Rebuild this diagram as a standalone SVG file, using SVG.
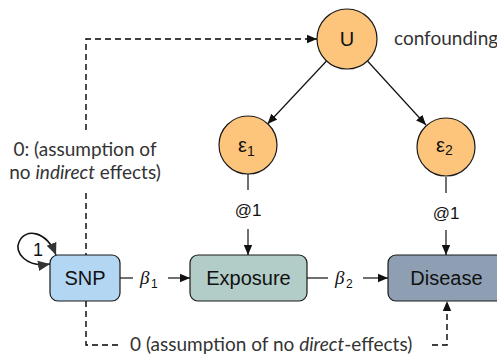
<svg xmlns="http://www.w3.org/2000/svg" width="497" height="356" viewBox="0 0 497 356">
  <style>
    .node { stroke: #1a1a1a; stroke-width: 1.2; }
    .latent { fill: #fdc57b; }
    .box { stroke: #1a1a1a; stroke-width: 1.2; }
    .lbl { font-family: "Liberation Sans", Arial, sans-serif; fill: #111; }
    .ann { font-family: Lato, "Open Sans", sans-serif; fill: #333; font-size: 19px; }
    .edge { fill: none; stroke: #111; stroke-width: 1.2; }
    .loop { fill: none; stroke: #111; stroke-width: 1.6; }
    .dash { fill: none; stroke: #000; stroke-width: 1.4; stroke-dasharray: 6 4; }
    .beta { font-family: "Liberation Serif", serif; font-style: italic; font-size: 19px; fill: #111; }
    .sub { font-family: "Liberation Sans", sans-serif; font-size: 12px; fill: #111; }
  </style>
  <defs>
    <marker id="arrow" viewBox="0 0 10 10" refX="10" refY="5" markerWidth="10" markerHeight="10" markerUnits="userSpaceOnUse" orient="auto-start-reverse">
      <path d="M0,0.8 L10,5 L0,9.2 z" fill="#111"/>
    </marker>
    <marker id="arrowBig" viewBox="0 0 12 12" refX="12" refY="6" markerWidth="12" markerHeight="12" markerUnits="userSpaceOnUse" orient="auto-start-reverse">
      <path d="M0,0.8 L12,6 L0,11.2 z" fill="#333"/>
    </marker>
  </defs>

  <!-- connectors -->
  <g id="connectors">
    <!-- U to residuals -->
    <line class="edge" x1="326.5" y1="61" x2="267.5" y2="124" marker-end="url(#arrow)"/>
    <line class="edge" x1="367.5" y1="61" x2="426" y2="125" marker-end="url(#arrow)"/>
    <!-- residuals to observed -->
    <line class="edge" x1="248" y1="174" x2="248" y2="190"/>
    <line class="edge" x1="248" y1="229" x2="248" y2="255" marker-end="url(#arrow)"/>
    <text class="lbl" x="248" y="216" font-size="17" text-anchor="middle">@1</text>
    <line class="edge" x1="446" y1="177" x2="446" y2="193"/>
    <line class="edge" x1="446" y1="230" x2="446" y2="255" marker-end="url(#arrow)"/>
    <text class="lbl" x="446" y="219" font-size="17" text-anchor="middle">@1</text>
    <!-- regression paths -->
    <line class="edge" x1="120" y1="278" x2="133" y2="278"/>
    <line class="edge" x1="168" y1="278" x2="190" y2="278" marker-end="url(#arrow)"/>
    <text class="beta" x="140" y="284">β</text>
    <text class="sub" x="151" y="288">1</text>
    <line class="edge" x1="307" y1="278" x2="328" y2="278"/>
    <line class="edge" x1="363" y1="278" x2="388" y2="278" marker-end="url(#arrow)"/>
    <text class="beta" x="335" y="284">β</text>
    <text class="sub" x="346" y="288">2</text>
    <!-- SNP variance loop -->
    <path class="loop" d="M50,264 C26,268 14,252 19,242 C25,228 46,230 56,255" marker-start="url(#arrowBig)" marker-end="url(#arrowBig)"/>
    <text class="lbl" x="38" y="256" font-size="18" text-anchor="middle">1</text>
    <!-- fixed-to-zero paths -->
    <path class="dash" d="M86,130 V39 H317" marker-end="url(#arrow)"/>
    <path class="dash" d="M86,193 V255"/>
    <path class="dash" d="M86,301 V345 H122"/>
    <path class="dash" d="M432,345 H447 V301" marker-end="url(#arrow)"/>
    <text class="ann" x="85" y="156" text-anchor="middle">0: (assumption of</text>
    <text class="ann" x="85" y="179" text-anchor="middle">no <tspan font-style="italic">indirect</tspan> effects)</text>
    <text class="ann" x="130" y="351">0 (assumption of no <tspan font-style="italic">direct</tspan>-effects)</text>
    <text class="ann" x="394" y="45" font-size="18">confounding</text>
  </g>

  <g id="U">
    <circle class="node latent" cx="347" cy="39" r="30"/>
    <text class="lbl" x="347" y="46" font-size="20" text-anchor="middle">U</text>
  </g>
  <g id="e1">
    <circle class="node latent" cx="248" cy="145" r="29"/>
    <text class="lbl" x="238" y="152" font-size="20">ε<tspan font-size="14" dy="4">1</tspan></text>
  </g>
  <g id="e2">
    <circle class="node latent" cx="446" cy="147" r="29"/>
    <text class="lbl" x="436" y="152" font-size="20">ε<tspan font-size="14" dy="3">2</tspan></text>
  </g>
  <g id="SNP">
    <rect class="box" x="50" y="255" width="70" height="46" rx="8" fill="#b3d6f2"/>
    <text class="lbl" x="85" y="285" font-size="20" text-anchor="middle">SNP</text>
  </g>
  <g id="Exposure">
    <rect class="box" x="190" y="255" width="117" height="46" rx="8" fill="#b2cdc8"/>
    <text class="lbl" x="248.5" y="285" font-size="20" text-anchor="middle">Exposure</text>
  </g>
  <g id="Disease">
    <rect class="box" x="388" y="255" width="117" height="46" rx="8" fill="#8e9fb3"/>
    <text class="lbl" x="446.5" y="285" font-size="20" text-anchor="middle">Disease</text>
  </g>
</svg>
